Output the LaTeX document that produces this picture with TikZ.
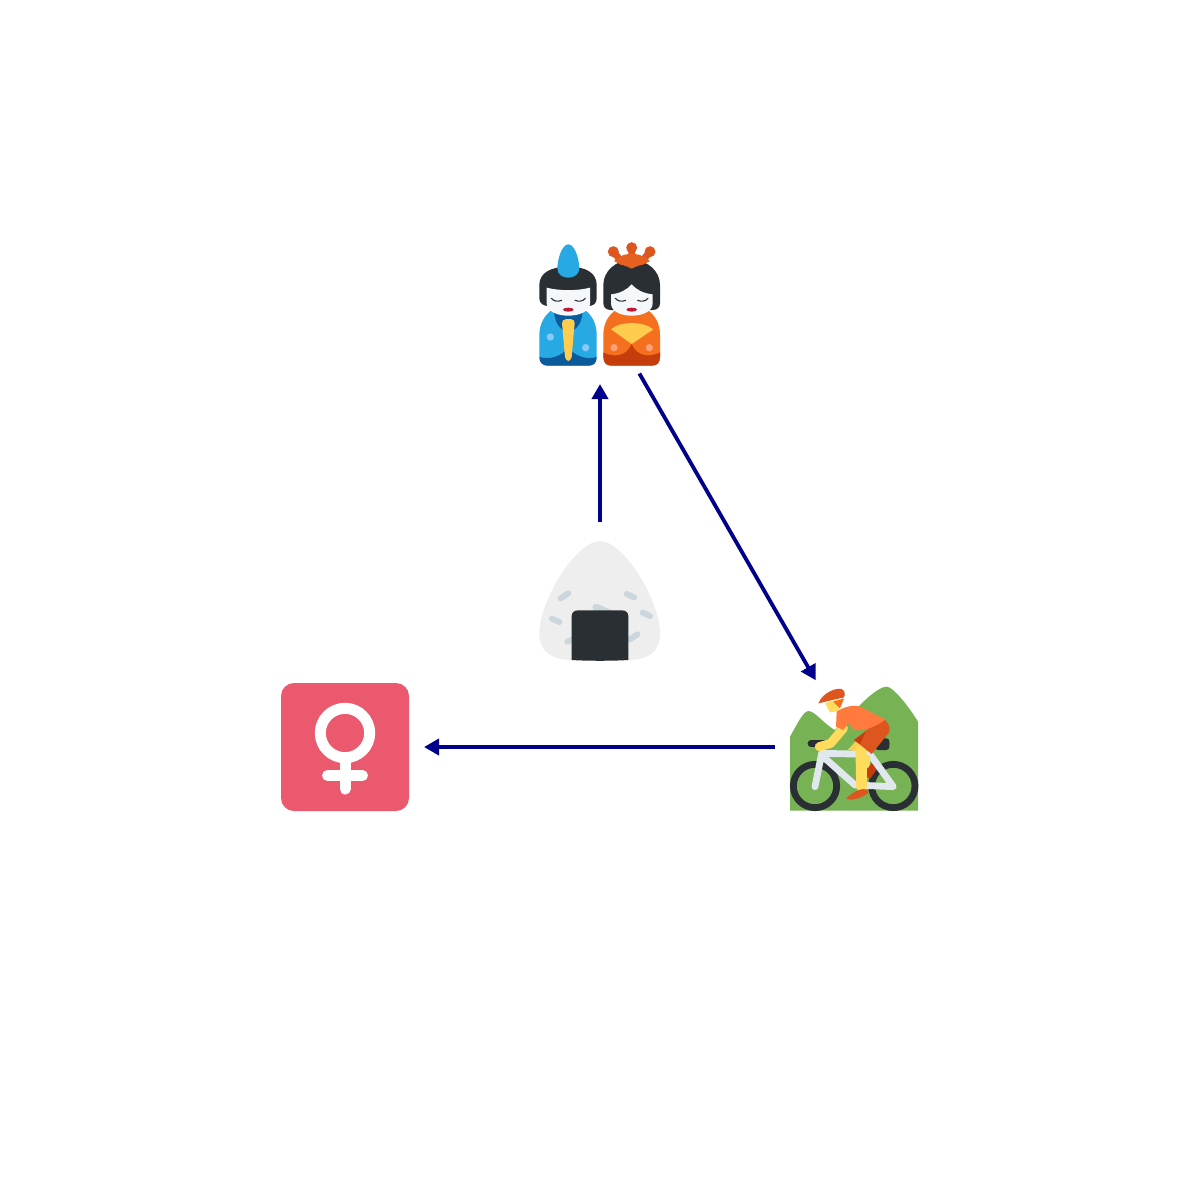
\documentclass[tikz,border=0pt]{standalone}
\usetikzlibrary{arrows.meta}
\definecolor{arrowblue}{HTML}{00008B}
\definecolor{dollblue}{HTML}{27A9E3}
\definecolor{dollnavy}{HTML}{0A5A9C}
\definecolor{dotblue}{HTML}{88C9F9}
\definecolor{dark}{HTML}{292F33}
\definecolor{skin}{HTML}{F5F8FA}
\definecolor{lip}{HTML}{BE1931}
\definecolor{gold}{HTML}{FFCC4D}
\definecolor{orng}{HTML}{F4701F}
\definecolor{orngd}{HTML}{DD551F}
\definecolor{orngr}{HTML}{C63D0C}
\definecolor{dotorng}{HTML}{FFA07A}
\definecolor{green}{HTML}{77B255}
\definecolor{yskin}{HTML}{FFDC5D}
\definecolor{frame}{HTML}{E1E8ED}
\definecolor{shirt}{HTML}{FF7A3D}
\definecolor{rice}{HTML}{EEEEEE}
\definecolor{grain}{HTML}{CCD6DD}
\definecolor{rose}{HTML}{EA596E}
\tikzset{
  hub/.style={circle,minimum size=79pt,inner sep=0pt,outer sep=0pt},
  link/.style={draw=arrowblue,line width=1.9pt,-{Triangle[length=7.5pt,width=8pt]}},
  zoomed/.style={x=0.16667pt,y=-0.16667pt},
  eye/.style={draw=dark,line width=0.55pt,line cap=round},
  grainline/.style={draw=grain,line width=3pt,line cap=round},
  barline/.style={draw=frame,line width=3.4pt,line cap=round,line join=round},
  venus/.style={draw=white,line width=5.5pt,line cap=round}
}
\begin{document}
\begin{tikzpicture}[x=0.5pt,y=-0.5pt]
\useasboundingbox[fill=white] (0,0) rectangle (1200,1200);

% female sign
\fill[rose,rounded corners=6.5pt] (281,683) rectangle (409,811);
\draw[venus] (345,733) circle[radius=24.7];
\draw[venus] (345,760) -- (345,789);
\draw[venus] (327.5,775.5) -- (362.5,775.5);

% dolls
\begin{scope}[shift={(530,235)},zoomed]
  % left doll
  \fill[dollblue] (28,365) -- (28,300) .. controls (28,265) and (45,240) .. (65,225) -- (165,225) .. controls (185,240) and (200,265) .. (200,300) -- (200,365) .. controls (200,385) and (190,392) .. (175,392) -- (55,392) .. controls (40,392) and (28,385) .. (28,365) -- cycle;
  \fill[dollnavy] (28,366) .. controls (60,375) and (90,365) .. (115,340) .. controls (140,365) and (170,375) .. (200,366) .. controls (200,385) and (190,392) .. (175,392) -- (55,392) .. controls (40,392) and (28,385) .. (28,366) -- cycle;
  \fill[dollnavy] (72,225) -- (158,225) .. controls (158,255) and (145,285) .. (115,292) .. controls (85,285) and (72,255) .. (72,225) -- cycle;
  \fill[gold,rounded corners=2pt] (95,253) -- (135,252) -- (124,378) -- (106,378) -- cycle;
  \fill[dotblue] (61,306) circle[radius=11] (167,338) circle[radius=11];
  \fill[dark] (115,95) .. controls (60,95) and (28,115) .. (28,150) -- (28,190) .. controls (28,205) and (40,213) .. (55,213) -- (175,213) .. controls (190,213) and (200,205) .. (200,190) -- (200,150) .. controls (200,115) and (170,95) .. (115,95) -- cycle;
  \fill[dollblue] (115,28) .. controls (95,28) and (82,75) .. (82,100) .. controls (82,118) and (98,128) .. (115,128) .. controls (132,128) and (148,118) .. (148,100) .. controls (148,75) and (135,28) .. (115,28) -- cycle;
  \fill[skin] (50,158) .. controls (90,168) and (140,168) .. (180,158) -- (180,205) .. controls (180,228) and (150,242) .. (115,242) .. controls (80,242) and (50,228) .. (50,205) -- cycle;
  \draw[eye] (64,190) .. controls (72,200) and (85,200) .. (95,196);
  \draw[eye] (135,196) .. controls (145,200) and (158,200) .. (166,190);
  \fill[lip] (115,224) ellipse[x radius=16,y radius=6];
  % right doll
  \fill[orng] (220,365) -- (220,300) .. controls (220,265) and (235,240) .. (258,225) -- (352,225) .. controls (375,240) and (390,265) .. (390,300) -- (390,365) .. controls (390,385) and (380,392) .. (365,392) -- (245,392) .. controls (230,392) and (220,385) .. (220,365) -- cycle;
  \fill[orngr] (220,352) .. controls (250,368) and (290,365) .. (305,327) .. controls (320,365) and (360,368) .. (390,352) -- (390,365) .. controls (390,385) and (380,392) .. (365,392) -- (245,392) .. controls (230,392) and (220,385) .. (220,365) -- cycle;
  \fill[gold] (243,283) .. controls (270,258) and (340,258) .. (370,283) -- (305,327) -- cycle;
  \fill[dotorng] (252,338) circle[radius=11] (358,338) circle[radius=11];
  \fill[dark] (305,75) .. controls (255,75) and (220,110) .. (220,150) -- (220,205) .. controls (220,218) and (230,225) .. (243,225) -- (367,225) .. controls (380,225) and (390,218) .. (390,205) -- (390,150) .. controls (390,110) and (355,75) .. (305,75) -- cycle;
  \draw[orngd,line width=3.4pt,line cap=round] (250,50) -- (275,80) (305,38) -- (305,80) (360,50) -- (335,80);
  \fill[orngd] (250,50) circle[radius=16.5] (305,38) circle[radius=16.5] (360,50) circle[radius=16.5];
  \fill[orngd!60!orng] (252,78) -- (280,60) -- (305,55) -- (330,60) -- (360,78) .. controls (340,90) and (320,92) .. (305,101) .. controls (290,92) and (270,90) .. (252,78) -- cycle;
  \fill[skin] (243,178) .. controls (270,175) and (290,165) .. (305,148) .. controls (320,165) and (340,175) .. (368,178) -- (368,205) .. controls (368,228) and (340,242) .. (305,242) .. controls (270,242) and (243,228) .. (243,205) -- cycle;
  \draw[eye] (256,190) .. controls (264,200) and (277,200) .. (287,196);
  \draw[eye] (323,196) .. controls (333,200) and (346,200) .. (354,190);
  \fill[lip] (305,224) ellipse[x radius=16,y radius=6];
\end{scope}

% rice ball
\begin{scope}[shift={(530,530)},zoomed]
  \fill[rice] (210,33) .. controls (140,33) and (28,210) .. (28,310) .. controls (28,370) and (70,390) .. (130,390) -- (290,390) .. controls (350,390) and (390,370) .. (390,310) .. controls (390,210) and (280,33) .. (210,33) -- cycle;
  \draw[grainline] (92,205) -- (115,190);
  \draw[grainline] (66,266) -- (88,276);
  \draw[grainline] (290,192) -- (312,202);
  \draw[grainline] (338,248) -- (360,258);
  \draw[grainline] (300,328) -- (322,313);
  \draw[grainline] (112,335) -- (130,328);
  \draw[grainline,line width=3.6pt] (198,232) -- (240,250);
  \fill[dark] (125,390) -- (125,258) .. controls (125,248) and (133,241) .. (143,241) -- (277,241) .. controls (287,241) and (295,248) .. (295,258) -- (295,390) .. controls (250,393) and (170,393) .. (125,390) -- cycle;
\end{scope}

% mountain biker
\begin{scope}[shift={(780,675)},zoomed]
  \fill[green] (30,407) -- (30,185) .. controls (50,150) and (70,108) .. (85,108) .. controls (105,108) and (135,150) .. (165,165) -- (240,90) .. controls (280,50) and (305,35) .. (320,35) .. controls (340,35) and (390,100) .. (414,140) -- (414,407) -- cycle;
  \draw[dark,line width=3.4pt] (105,333) circle[radius=65] (340,333) circle[radius=65];
  \draw[dark,line width=3.4pt,line cap=round] (93,205) -- (135,205) (292,205) -- (318,205);
  \fill[dark,rounded corners=1.5pt] (285,190) rectangle (328,225);
  \draw[orngr,line width=4pt] (285,270) -- (260,305);
  \fill[gold] (203,225) -- (228,198) -- (250,210) -- (240,230) -- cycle;
  \draw[barline] (105,335) -- (125,235) -- (270,238) -- (340,335) -- (225,330) -- (135,250);
  \draw[yskin,line width=3pt,line cap=round] (262,248) -- (260,270);
  \fill[yskin] (135,85) -- (165,75) -- (192,72) -- (175,108) -- (150,112) -- cycle;
  \fill[orng] (160,80) -- (192,70) -- (180,100) -- cycle;
  \fill[orngd] (115,85) .. controls (130,50) and (170,38) .. (185,42) .. controls (195,48) and (198,60) .. (190,68) .. controls (165,72) and (140,80) .. (115,85) -- cycle;
  \draw[yskin,line width=4.5pt,line cap=round,line join=round] (190,160) -- (152,205) -- (118,215);
  \draw[yskin,line width=5.5pt,line cap=round] (243,222) -- (245,335);
  \fill[orngd] (316,135) .. controls (330,150) and (332,165) .. (325,175) -- (275,237) -- (235,205) -- (222,195) -- (280,150) -- cycle;
  \fill[orngr] (222,195) -- (257,170) -- (240,207) -- cycle;
  \fill[shirt] (170,110) .. controls (190,95) and (225,88) .. (240,95) -- (316,133) .. controls (290,155) and (250,170) .. (222,165) -- (205,145) -- (190,165) -- (168,155) -- cycle;
  \fill[orngd] (198,372) .. controls (220,345) and (265,330) .. (265,355) .. controls (240,370) and (215,378) .. (198,372) -- cycle;
\end{scope}

% invisible hubs that the connectors run between
\node[hub] (dolls) at (600,305) {};
\node[hub] (riceball) at (600,601) {};
\node[hub] (biker) at (854,747) {};
\node[hub] (female) at (345,747) {};

\draw[link] (riceball) -- (dolls);
\draw[link,shorten >=-1pt] (dolls) -- (biker);
\draw[link] (biker) -- (female);
\end{tikzpicture}
\end{document}
